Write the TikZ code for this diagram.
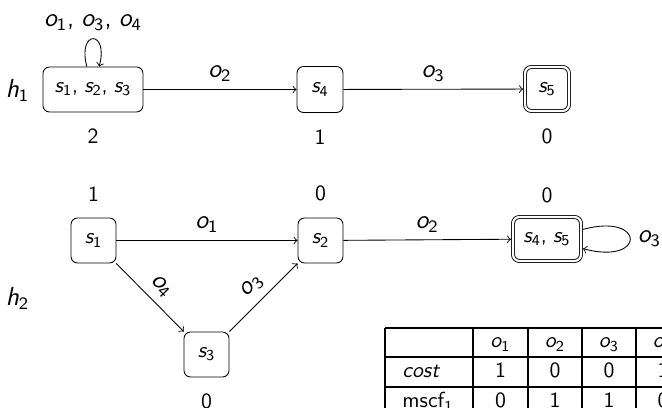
\documentclass[tikz,border=0pt]{standalone}
\renewcommand\familydefault{\sfdefault}
\newdimen\pxu \pxu=0.46pt
\newcommand\vr[2]{{\slshape #1}\textsubscript{\upshape #2}}
\begin{document}
\begin{tikzpicture}[x=0.46pt,y=-0.46pt,>=to,
  st/.style={draw, rounded corners=3pt, minimum width=46\pxu, minimum height=46\pxu, inner sep=1pt},
  acc/.style={st, double, double distance=1pt, outer sep=2\pxu},
  lab/.style={font=\large},
  cst/.style={label distance=4pt},
  tab/.style={line width=0.5pt}]
\useasboundingbox (0,0) rectangle (662,408);
\clip (0,0) rectangle (662,408);
% h1
\node[lab] (h1) at (17.5,90) {\vr h1};
\node[st, minimum width=100\pxu, minimum height=45\pxu, label={[cst]below:2}] (A) at (93,89.5) {\vr s1,\;\vr s2,\;\vr s3};
\node[st, label={[cst]below:1}] (B) at (320,89.5) {\vr s4};
\node[acc, minimum width=44\pxu, minimum height=44\pxu, label={[label distance=3.5pt]below:0}] (C) at (547,89) {\vr s5};
\draw[->] (A) to[out=105, in=75, looseness=8, min distance=5mm] node[above, lab] {\vr o1,\;\vr o3,\;\vr o4} (A);
\draw[->] (A) -- node[above, lab] {\vr o2} (B);
\draw[->] (B) -- node[above, lab] {\vr o3} (C);
% h2
\node[lab] (h2) at (17.5,298) {\vr h2};
\node[st, minimum width=45\pxu, minimum height=45\pxu, label={[cst]above:1}] (D) at (93.5,240.5) {\vr s1};
\node[st, minimum width=45\pxu, minimum height=45\pxu, label={[cst]above:0}] (E) at (320.5,240.5) {\vr s2};
\node[st, minimum width=45\pxu, minimum height=45\pxu, label={[cst]below:0}] (F) at (206.5,354.5) {\vr s3};
\node[acc, minimum width=68\pxu, minimum height=44\pxu, label={[label distance=2pt]above:0}] (G) at (547,239) {\vr s4,\;\vr s5};
\draw[->] (D) -- node[above, lab] {\vr o1} (E);
\draw[->] (D) -- node[above, sloped, lab] {\vr o4} (F);
\draw[->] (F) -- node[above, sloped, lab] {\vr o3} (E);
\draw[->] (E) -- node[above, lab] {\vr o2} (G);
\draw[->] (G) to[out=15, in=-15, looseness=8, min distance=30pt] node[right, lab] {\vr o3} (G);
% table
\draw[tab] (385,328) -- (700,328);
\draw[tab] (385,357) -- (700,357);
\draw[tab] (385,387) -- (700,387);
\foreach \xx in {385,473,528,582,636,690} \draw[tab] (\xx,328) -- (\xx,420);
\node[anchor=base] (t01) at (500.5,348) {\vr o1};
\node[anchor=base] (t02) at (555,348) {\vr o2};
\node[anchor=base] (t03) at (609,348) {\vr o3};
\node[anchor=base] (t04) at (663,348) {\vr o4};
\node[anchor=base west, inner sep=0pt] (t10) at (402,378) {\slshape cost};
\node[anchor=base] (t11) at (500.5,378) {1};
\node[anchor=base] (t12) at (555,378) {0};
\node[anchor=base] (t13) at (609,378) {0};
\node[anchor=base] (t14) at (663,378) {1};
\node[anchor=base west, inner sep=0pt] (t20) at (402,408) {mscf\textsubscript{1}};
\node[anchor=base] (t21) at (500.5,408) {0};
\node[anchor=base] (t22) at (555,408) {1};
\node[anchor=base] (t23) at (609,408) {1};
\node[anchor=base] (t24) at (663,408) {0};
\end{tikzpicture}
\end{document}
